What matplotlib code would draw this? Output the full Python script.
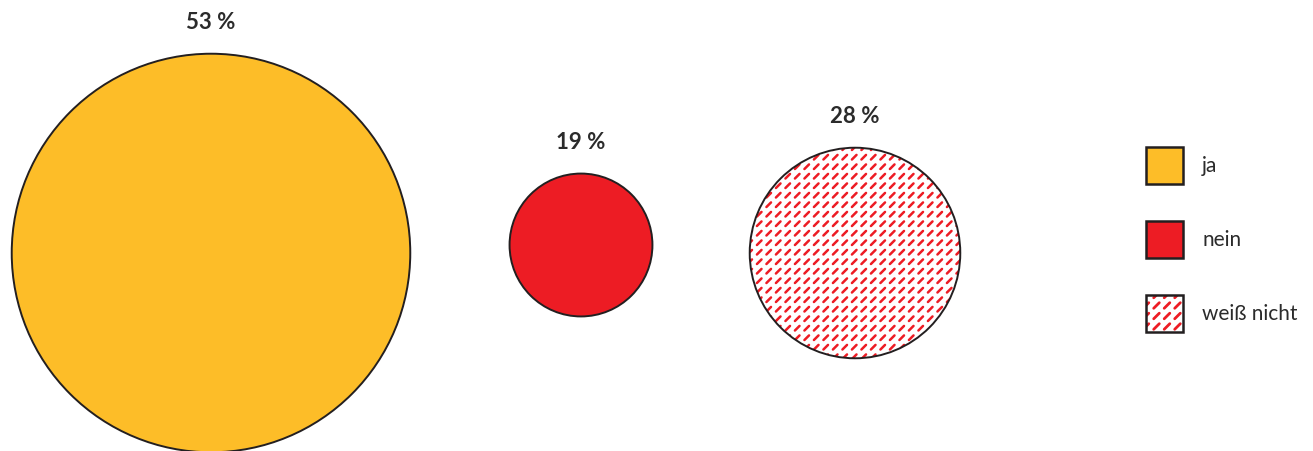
import numpy as np
import matplotlib
matplotlib.use("Agg")
import matplotlib.pyplot as plt
from matplotlib.patches import Circle, Rectangle
from matplotlib.collections import LineCollection

plt.rcParams['font.family'] = ['Lato', 'DejaVu Sans']

categories = ["ja", "nein", "weiß nicht"]
values = [53, 19, 28]
labels = ["53 %", "19 %", "28 %"]

YELLOW = "#FDBD28"
RED = "#ED1C24"
EDGE = "#231F20"
TEXT = "#2B2B2B"

W, H = 1313, 452
fig = plt.figure(figsize=(W / 100, H / 100), dpi=100)
ax = fig.add_axes([0, 0, 1, 1])
ax.set_xlim(0, W)
ax.set_ylim(H, 0)
ax.set_aspect("equal")
ax.axis("off")

# circle diameter scales with the share
px_per_pct = 3.76
centers = [(211, 254), (581, 246), (855, 254)]


def dash_hatch(patch, x0, x1, y0, y1, step=9.5, half=2.3, lw=1.8):
    # short "/" dashes on a square grid, clipped to the patch
    segs = []
    for yy in np.arange(y0, y1 + step, step):
        for xx in np.arange(x0, x1 + step, step):
            segs.append([(xx - half, yy + half), (xx + half, yy - half)])
    lc = LineCollection(segs, colors=RED, linewidths=lw, capstyle="round", zorder=3)
    ax.add_collection(lc)
    lc.set_clip_path(patch)


for i, (cat, val, lab) in enumerate(zip(categories, values, labels)):
    cx, cy = centers[i]
    r = val * px_per_pct
    if i == 2:
        base = Circle((cx, cy), r, facecolor="white", edgecolor="none", zorder=2)
        ax.add_patch(base)
        dash_hatch(base, cx - r, cx + r, cy - r, cy + r)
        ax.add_patch(Circle((cx, cy), r, facecolor="none", edgecolor=EDGE, lw=1.4, zorder=4))
    else:
        ax.add_patch(Circle((cx, cy), r, facecolor=[YELLOW, RED][i], edgecolor=EDGE, lw=1.4, zorder=2))
    ax.text(cx, cy - r - 32, lab, ha="center", va="center", fontsize=16,
            fontweight="bold", color=TEXT)

# legend
sq = 37
lx = 1146
for i, cat in enumerate(categories):
    top = 148 + i * 74
    if i == 2:
        base = Rectangle((lx, top), sq, sq, facecolor="white", edgecolor="none", zorder=2)
        ax.add_patch(base)
        dash_hatch(base, lx, lx + sq, top, top + sq, step=10.5, half=2.8, lw=2.0)
        ax.add_patch(Rectangle((lx, top), sq, sq, facecolor="none", edgecolor=EDGE, lw=1.8, zorder=4))
    else:
        ax.add_patch(Rectangle((lx, top), sq, sq, facecolor=[YELLOW, RED][i], edgecolor=EDGE,
                               lw=1.8, zorder=2))
    ax.text(1202, top + sq / 2, cat, ha="left", va="center", fontsize=15, color=TEXT)

fig.savefig("out.png", dpi=100)
